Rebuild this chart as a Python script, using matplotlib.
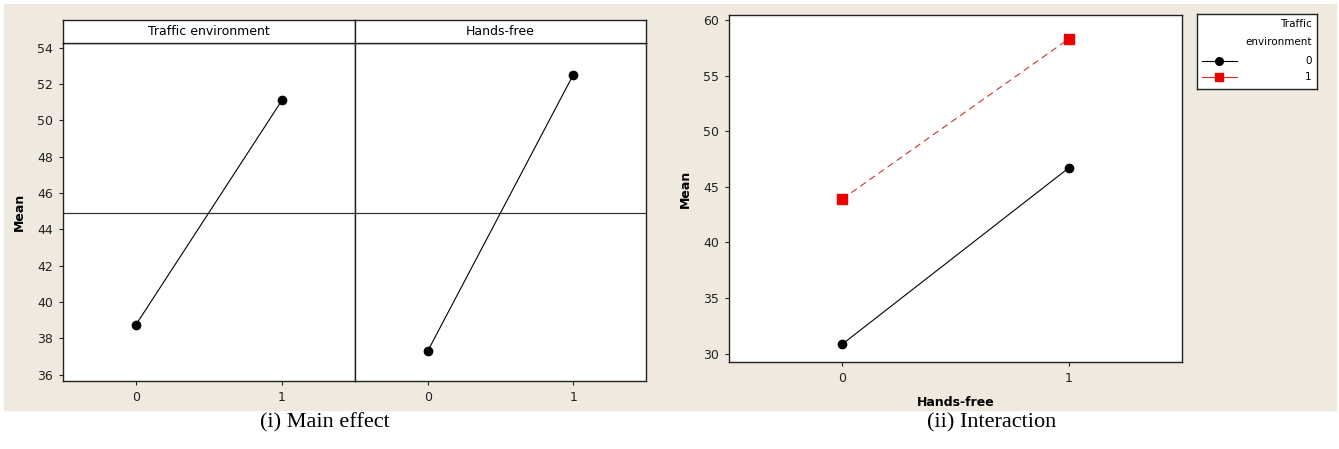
# main effects + interaction plot (Minitab style)
import matplotlib.pyplot as plt
from matplotlib.patches import Rectangle

# data ===================================================================
levels = [0, 1]
factors = ['Traffic environment', 'Hands-free']
main_means = [[38.75, 51.1], [37.3, 52.5]]
grand_mean = 44.92
main_yticks = [36, 38, 40, 42, 44, 46, 48, 50, 52, 54]

inter_groups = ['0', '1']
inter_means = [[30.85, 46.7], [43.9, 58.3]]
inter_yticks = [30, 35, 40, 45, 50, 55, 60]

W, H = 1339, 449
BG = '#efe9df'


def box(l, t, r, b):
    # pixel box -> figure fraction rect
    return [l / W, 1 - b / H, (r - l) / W, (b - t) / H]


def style(ax):
    ax.set_facecolor('white')
    for s in ax.spines.values():
        s.set_linewidth(1.0)
        s.set_color('#222222')
    ax.tick_params(labelsize=9, length=3, width=0.8, colors='#222222', pad=4)


def main():
    fig = plt.figure(figsize=(W / 100, H / 100), dpi=100)
    fig.patch.set_facecolor('white')
    fig.patches.append(Rectangle((4 / W, 1 - 410 / H), 1332 / W, 406 / H,
                                 transform=fig.transFigure, color=BG, zorder=-10))

    # (i) main effects ---------------------------------------------------
    edges = [63, 355, 646]
    for i, name in enumerate(factors):
        ax = fig.add_axes(box(edges[i], 43, edges[i + 1], 381))
        style(ax)
        ax.plot(levels, main_means[i], color='black', lw=0.8, marker='o', ms=6)
        ax.axhline(grand_mean, color='#333333', lw=0.9)
        ax.set_xlim(-0.5, 1.5)
        ax.set_ylim(35.65, 54.25)
        ax.set_xticks(levels)
        if i == 0:
            ax.set_yticks(main_yticks)
            ax.set_ylabel('Mean', fontsize=9, fontweight='bold', labelpad=8)
        else:
            ax.set_yticks([])
        hd = fig.add_axes(box(edges[i], 20, edges[i + 1], 43))
        style(hd)
        hd.set_xticks([])
        hd.set_yticks([])
        hd.text(0.5, 0.5, name, ha='center', va='center', fontsize=9, transform=hd.transAxes)

    # (ii) interaction ---------------------------------------------------
    ax = fig.add_axes(box(729, 15, 1182, 362))
    style(ax)
    ax.plot(levels, inter_means[0], color='black', lw=0.8, marker='o', ms=6)
    ax.plot(levels, inter_means[1], color='#cc3333', lw=0.8, ls=(0, (6, 4)),
            marker='s', ms=6.5, mfc='#ee0000', mec='#ee0000')
    ax.set_xlim(-0.5, 1.5)
    ax.set_ylim(29.25, 60.45)
    ax.set_xticks(levels)
    ax.set_yticks(inter_yticks)
    ax.set_ylabel('Mean', fontsize=9, fontweight='bold', labelpad=8)
    ax.set_xlabel('Hands-free', fontsize=9, fontweight='bold', labelpad=8)

    # legend box
    lg = fig.add_axes(box(1197, 14, 1317, 89))
    style(lg)
    lg.set_xticks([])
    lg.set_yticks([])
    lg.set_xlim(0, 1)
    lg.set_ylim(0, 1)
    lg.text(0.955, 0.87, 'Traffic', ha='right', va='center', fontsize=7.5)
    lg.text(0.955, 0.63, 'environment', ha='right', va='center', fontsize=7.5)
    rows = [0.38, 0.16]
    for g, y in zip(inter_groups, rows):
        if g == '0':
            lg.plot([0.04, 0.18, 0.33], [y, y, y], color='black', lw=0.8,
                    marker='o', ms=5.5, markevery=[1])
        else:
            lg.plot([0.04, 0.18, 0.33], [y, y, y], color='#cc3333', lw=0.8,
                    marker='s', ms=5.5, mfc='#ee0000', mec='#ee0000', markevery=[1])
        lg.text(0.955, y, g, ha='right', va='center', fontsize=7.5)

    # captions
    fig.text(325 / W, 1 - 423 / H, '(i) Main effect', ha='center', va='center',
             fontsize=16, family='Liberation Serif')
    fig.text(992 / W, 1 - 423 / H, '(ii) Interaction', ha='center', va='center',
             fontsize=16, family='Liberation Serif')

    fig.savefig('out.png', dpi=100, facecolor='white')


if __name__ == "__main__":
    main()
